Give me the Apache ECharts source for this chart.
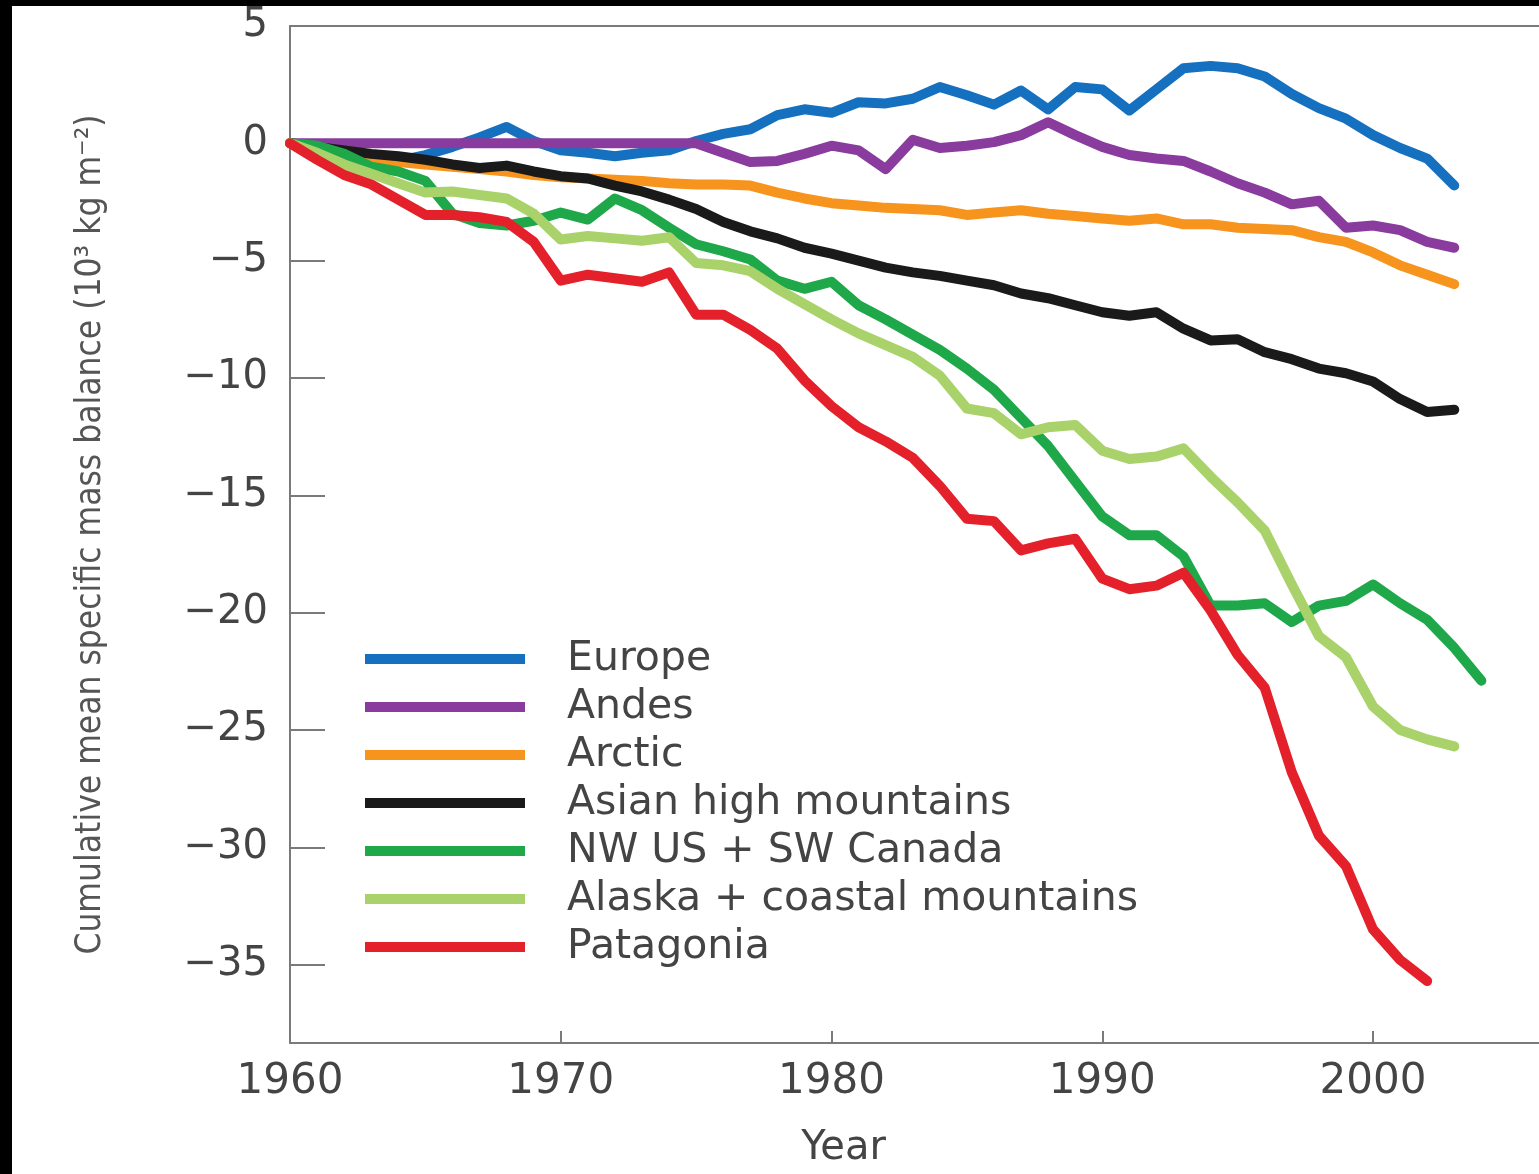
<!DOCTYPE html>
<html>
<head>
<meta charset="utf-8">
<script src="https://cdn.jsdelivr.net/npm/echarts@6/dist/echarts.min.js"></script>
<style>
  html, body { margin: 0; padding: 0; background: #000; }
  #chart { position: absolute; left: 12px; top: 6px; width: 1527px; height: 1168px; background: #fff; }
</style>
</head>
<body>
<div id="chart"></div>
<script>
// years on the x axis
var years = [1960, 1961, 1962, 1963, 1964, 1965, 1966, 1967, 1968, 1969,
  1970, 1971, 1972, 1973, 1974, 1975, 1976, 1977, 1978, 1979,
  1980, 1981, 1982, 1983, 1984, 1985, 1986, 1987, 1988, 1989,
  1990, 1991, 1992, 1993, 1994, 1995, 1996, 1997, 1998, 1999,
  2000, 2001, 2002, 2003, 2004];

// cumulative mean specific mass balance, 10^3 kg m^-2
var europe = [0, -0.1, -0.3, -0.5, -0.75, -0.5, -0.15, 0.25, 0.7, 0.1,
  -0.3, -0.4, -0.55, -0.4, -0.3, 0.1, 0.4, 0.6, 1.2, 1.45,
  1.3, 1.75, 1.7, 1.9, 2.4, 2.05, 1.65, 2.25, 1.45, 2.4,
  2.3, 1.4, 2.3, 3.2, 3.3, 3.2, 2.85, 2.1, 1.5, 1.05,
  0.35, -0.2, -0.65, -1.8];
var andes = [0, 0, 0, 0, 0, 0, 0, 0, 0, 0,
  0, 0, 0, 0, 0, 0, -0.4, -0.8, -0.75, -0.45,
  -0.1, -0.3, -1.1, 0.15, -0.2, -0.1, 0.05, 0.35, 0.9, 0.35,
  -0.15, -0.5, -0.65, -0.75, -1.2, -1.7, -2.1, -2.6, -2.45, -3.6,
  -3.5, -3.7, -4.2, -4.45];
var arctic = [0, -0.2, -0.4, -0.6, -0.8, -0.9, -1.0, -1.1, -1.2, -1.35,
  -1.45, -1.5, -1.55, -1.6, -1.7, -1.75, -1.75, -1.8, -2.1, -2.35,
  -2.55, -2.65, -2.75, -2.8, -2.85, -3.05, -2.95, -2.85, -3.0, -3.1,
  -3.2, -3.3, -3.2, -3.45, -3.45, -3.6, -3.65, -3.7, -4.0, -4.2,
  -4.65, -5.2, -5.6, -6.0];
var asian = [0, -0.15, -0.3, -0.45, -0.55, -0.7, -0.9, -1.05, -0.95, -1.2,
  -1.4, -1.5, -1.8, -2.05, -2.4, -2.8, -3.35, -3.75, -4.05, -4.45,
  -4.7, -5.0, -5.3, -5.5, -5.65, -5.85, -6.05, -6.4, -6.6, -6.9,
  -7.2, -7.35, -7.2, -7.9, -8.4, -8.35, -8.9, -9.2, -9.6, -9.8,
  -10.15, -10.9, -11.45, -11.35];
var nwus = [0, -0.1, -0.45, -1.0, -1.2, -1.6, -3.0, -3.4, -3.5, -3.3,
  -2.95, -3.25, -2.35, -2.85, -3.6, -4.3, -4.6, -4.95, -5.85, -6.2,
  -5.9, -6.9, -7.5, -8.15, -8.8, -9.6, -10.5, -11.7, -12.9, -14.4,
  -15.9, -16.7, -16.7, -17.6, -19.7, -19.7, -19.6, -20.4, -19.7, -19.5,
  -18.8, -19.6, -20.3, -21.5, -22.9];
var alaska = [0, -0.4, -0.9, -1.3, -1.7, -2.1, -2.05, -2.2, -2.35, -3.0,
  -4.1, -3.95, -4.05, -4.15, -4.0, -5.1, -5.2, -5.45, -6.2, -6.85,
  -7.5, -8.1, -8.6, -9.1, -9.9, -11.3, -11.5, -12.4, -12.1, -12.0,
  -13.1, -13.45, -13.35, -13.0, -14.2, -15.3, -16.5, -18.8, -21.0, -21.9,
  -24.0, -25.0, -25.4, -25.7];
var patagonia = [0, -0.7, -1.35, -1.75, -2.4, -3.05, -3.05, -3.15, -3.35, -4.2,
  -5.85, -5.6, -5.75, -5.9, -5.5, -7.3, -7.3, -7.95, -8.75, -10.1,
  -11.2, -12.1, -12.7, -13.4, -14.6, -16.0, -16.1, -17.35, -17.05, -16.85,
  -18.55, -19.0, -18.85, -18.3, -19.9, -21.8, -23.2, -26.8, -29.5, -30.8,
  -33.5, -34.8, -35.7];

var names = ['Europe', 'Andes', 'Arctic', 'Asian high mountains',
  'NW US + SW Canada', 'Alaska + coastal mountains', 'Patagonia'];
var values = [europe, andes, arctic, asian, nwus, alaska, patagonia];
var colors = ['#1570c0', '#8a3c9e', '#f7941d', '#1a1a1a', '#1fa84a', '#a9d26b', '#e4202a'];

var axisGray = '#7a7a7a';
var textGray = '#444';

function pairs(vals) {
  var out = [];
  for (var i = 0; i < vals.length; i++) {
    out.push([years[i], vals[i]]);
  }
  return out;
}

var series = [];
for (var k = 0; k < names.length; k++) {
  series.push({
    name: names[k],
    type: 'line',
    data: pairs(values[k]),
    symbol: 'none',
    itemStyle: { color: colors[k] },
    lineStyle: { color: colors[k], width: 10, cap: 'round', join: 'round' }
  });
}

var chart = echarts.init(document.getElementById('chart'));
chart.setOption({
  animation: false,
  backgroundColor: '#fff',
  color: colors,
  grid: { left: 278, top: 16, right: 0, bottom: 128 },
  legend: {
    orient: 'vertical',
    left: 353, top: 629,
    padding: 0,
    itemGap: 0,
    icon: 'rect',
    itemWidth: 160, itemHeight: 10,
    data: names,
    textStyle: {
      fontFamily: 'DejaVu Sans', fontSize: 41, color: textGray,
      lineHeight: 48, padding: [0, 0, 0, 37]
    }
  },
  xAxis: [{
    type: 'value',
    min: 1960, max: 2006.13, interval: 10,
    name: 'Year',
    nameLocation: 'middle',
    nameGap: 86,
    nameTextStyle: {
      fontFamily: 'DejaVu Sans', fontSize: 40, color: textGray,
      padding: [0, 142, 0, 0], verticalAlign: 'top'
    },
    axisLine: { onZero: false, lineStyle: { color: axisGray, width: 2 } },
    axisTick: { inside: true, length: 12, lineStyle: { color: axisGray, width: 2 } },
    axisLabel: {
      margin: 18, showMaxLabel: false,
      fontFamily: 'DejaVu Sans', fontSize: 42, color: textGray,
      formatter: function (v) { return v % 10 === 0 ? String(v) : ''; }
    },
    splitLine: { show: false }
  }, {
    // top frame line only
    type: 'value',
    position: 'top',
    min: 1960, max: 2006.13,
    axisLine: { show: true, onZero: false, lineStyle: { color: axisGray, width: 2 } },
    axisTick: { show: false },
    axisLabel: { show: false },
    splitLine: { show: false }
  }],
  yAxis: {
    type: 'value',
    min: -38.34, max: 5,
    splitNumber: 9,
    name: 'Cumulative mean specific mass balance (10³ kg m⁻²)',
    nameLocation: 'middle',
    nameGap: 182,
    nameTextStyle: {
      fontFamily: '"Liberation Sans Narrow", "DejaVu Sans Condensed", "DejaVu Sans"',
      fontSize: 35, color: '#555'
    },
    axisLine: { onZero: false, lineStyle: { color: axisGray, width: 2 } },
    axisTick: { inside: true, length: 35, lineStyle: { color: axisGray, width: 2 } },
    axisLabel: {
      margin: 22, showMinLabel: false,
      fontFamily: 'DejaVu Sans', fontSize: 40, color: textGray,
      formatter: function (v) {
        if (Math.abs(v % 5) > 1e-6) return '';
        return v < 0 ? '\u2212' + Math.abs(v) : String(v);
      }
    },
    splitLine: { show: false }
  },
  series: series
});
</script>
</body>
</html>
